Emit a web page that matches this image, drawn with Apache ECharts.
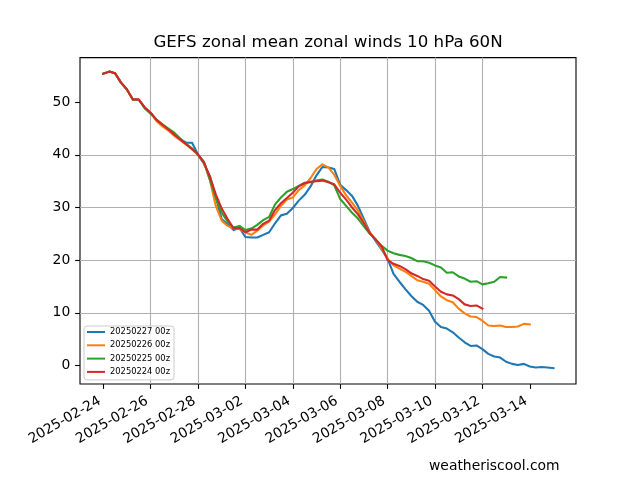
<!DOCTYPE html>
<html><head><meta charset="utf-8">
<script src="https://cdn.jsdelivr.net/npm/echarts@6/dist/echarts.min.js"></script>
<style>html,body{margin:0;padding:0;background:#fff}#c{width:640px;height:480px}</style>
</head><body><div id="c"></div>
<script>
// Day offsets are counted from 2025-02-24 00z, one value every 6 hours
const baseDateUTC = Date.UTC(2025, 1, 24);
const stepDays = 0.25;

const seriesNames = ['20250227 00z', '20250226 00z', '20250225 00z', '20250224 00z'];
const seriesColors = ['#1f77b4', '#ff7f0e', '#2ca02c', '#d62728'];

const run20250227 = [55.4,55.8,55.5,53.7,52.4,50.5,50.5,49.0,48.0,46.6,45.7,44.8,
  43.8,43.0,42.3,42.3,40.0,38.3,36.0,32.0,27.8,26.8,25.7,26.1,
  24.4,24.3,24.3,24.8,25.3,27.0,28.5,28.8,29.9,31.3,32.4,34.0,
  36.1,37.7,37.6,37.3,34.3,33.3,32.2,30.3,27.8,25.3,23.6,22.0,
  20.3,17.4,15.9,14.5,13.2,12.1,11.5,10.4,8.3,7.3,7.0,6.3,
  5.3,4.4,3.7,3.8,3.1,2.2,1.7,1.5,0.7,0.3,0.1,0.3,
  -0.2,-0.4,-0.3,-0.4,-0.5];
const run20250226 = [55.4,55.8,55.5,53.7,52.4,50.5,50.5,49.0,48.0,46.4,45.4,44.6,
  43.6,42.8,41.9,41.0,40.0,38.5,35.2,30.3,27.5,26.5,26.0,25.9,
  25.3,24.8,25.6,26.6,27.3,28.7,30.3,31.5,31.9,33.3,34.2,35.6,
  37.3,38.2,37.6,36.2,34.1,32.3,30.9,29.4,27.3,25.2,23.9,22.2,
  20.3,19.0,18.4,17.8,17.0,16.2,15.9,15.5,14.3,13.1,12.4,12.0,
  10.8,9.9,9.3,9.2,8.5,7.6,7.5,7.6,7.3,7.3,7.4,7.9,7.8];
const run20250225 = [55.4,55.8,55.5,53.7,52.4,50.5,50.5,48.8,47.8,46.7,45.8,45.0,
  44.2,43.1,42.1,41.2,40.0,38.7,35.3,31.8,29.0,27.3,26.2,26.5,
  25.7,26.0,26.7,27.6,28.2,30.6,31.9,33.0,33.5,34.1,34.7,34.8,
  35.1,35.3,34.9,34.2,31.6,30.3,29.0,27.9,26.4,25.0,23.9,22.7,
  21.8,21.3,21.0,20.8,20.4,19.8,19.8,19.5,19.0,18.6,17.6,17.7,
  16.9,16.5,15.9,16.0,15.4,15.6,15.9,16.8,16.7];
const run20250224 = [55.4,55.8,55.5,53.7,52.4,50.5,50.5,49.0,48.0,46.6,45.7,44.8,
  43.8,42.9,42.0,41.1,40.1,38.5,35.8,32.5,29.8,27.8,26.0,26.1,
  25.3,25.8,25.8,26.9,27.5,29.5,30.8,31.8,32.8,34.0,34.6,34.9,
  35.0,35.1,34.8,34.4,32.8,31.5,30.0,28.7,27.0,25.1,23.9,22.6,
  20.0,19.3,18.9,18.3,17.5,17.0,16.4,16.1,15.0,14.0,13.5,13.3,
  12.6,11.6,11.3,11.4,10.8];
const seriesValues = [run20250227, run20250226, run20250225, run20250224];

const xTickDays = [0, 2, 4, 6, 8, 10, 12, 14, 16, 18];
const yTicks = [0, 10, 20, 30, 40, 50];

const FONT = 'DejaVu Sans';
function dayLabel(v) {
  const d = new Date(baseDateUTC + Math.round(v * 86400000));
  return d.toISOString().slice(0, 10);
}

const chart = echarts.init(document.getElementById('c'), null, {renderer: 'canvas'});
chart.setOption({
  animation: false,
  backgroundColor: '#ffffff',
  grid: {left: 80, right: 64, top: 57.6, bottom: 96, show: true, borderColor: '#000', borderWidth: 1.1, backgroundColor: 'transparent'},
  graphic: [
    {type: 'text', x: 328, y: 43, style: {text: 'GEFS zonal mean zonal winds 10 hPa 60N', fill: '#000', font: '16.67px "DejaVu Sans"', textAlign: 'center', textVerticalAlign: 'middle'}},
    {type: 'text', x: 429, y: 466, style: {text: 'weatheriscool.com', fill: '#000', font: '13.9px "DejaVu Sans"', textAlign: 'left', textVerticalAlign: 'middle'}}
  ],
  legend: {
    orient: 'vertical', left: 84, top: 326,
    padding: [1, 4, 3, 3], itemGap: 3.3,
    itemWidth: 18, itemHeight: 2, icon: 'rect',
    backgroundColor: 'rgba(255,255,255,0.8)', borderColor: '#cccccc', borderWidth: 1, borderRadius: 3,
    textStyle: {fontFamily: FONT, fontSize: 8.33, color: '#000', lineHeight: 10},
    data: seriesNames
  },
  xAxis: {
    type: 'value', min: -0.98, max: 19.95, splitNumber: 10, minInterval: 2, maxInterval: 2,
    axisLine: {show: false, onZero: false},
    axisTick: {show: true, interval: 0, length: 4.9, lineStyle: {color: '#000', width: 1.1}, customValues: xTickDays},
    axisLabel: {customValues: xTickDays, interval: 0, hideOverlap: false, formatter: dayLabel, rotate: 30, margin: 14, padding: [0, 4, 0, 0],
      fontFamily: FONT, fontSize: 13.9, color: '#000'},
    splitLine: {show: true, showMinLine: false, showMaxLine: false, lineStyle: {color: '#b0b0b0', width: 1.1}}
  },
  yAxis: {
    type: 'value', min: -3.52, max: 58.46, splitNumber: 6, minInterval: 10, maxInterval: 10,
    axisLine: {show: false, onZero: false},
    axisTick: {show: true, interval: 0, length: 4.9, lineStyle: {color: '#000', width: 1.1}, customValues: yTicks},
    axisLabel: {customValues: yTicks, interval: 0, margin: 9.7, fontFamily: FONT, fontSize: 13.9, color: '#000'},
    splitLine: {show: true, showMinLine: false, showMaxLine: false, lineStyle: {color: '#b0b0b0', width: 1.1}}
  },
  series: seriesNames.map((name, k) => ({
    name: name, type: 'line', showSymbol: false, symbol: 'none',
    color: seriesColors[k],
    lineStyle: {width: 2.08, color: seriesColors[k], cap: 'square', join: 'round'},
    z: 2 + k,
    data: seriesValues[k].map((v, i) => [i * stepDays, v])
  }))
});
</script>
</body></html>
